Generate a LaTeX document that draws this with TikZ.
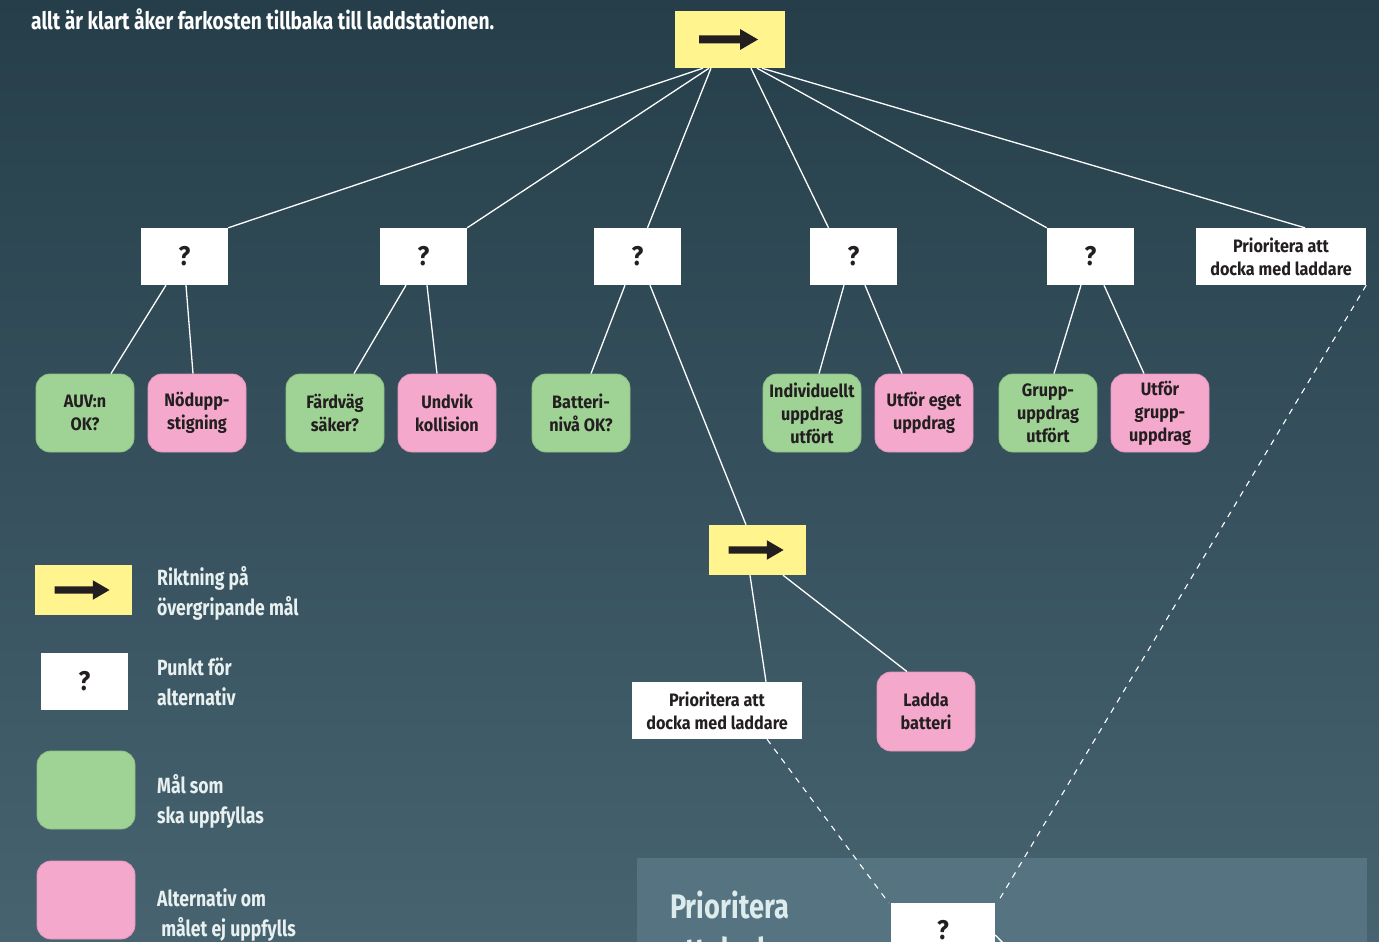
\documentclass[tikz,border=0pt]{standalone}
\usepackage{fontspec}
\setmainfont{Fira Sans}
\newfontfamily\boxfont{Fira Sans}[FakeStretch=0.9]
\newfontfamily\condfont{Fira Sans}[FakeStretch=0.8]
\usetikzlibrary{calc}
\definecolor{bgtop}{HTML}{253E4A}
\definecolor{bgbot}{HTML}{46636F}
\definecolor{ylw}{HTML}{FFF48E}
\definecolor{grn}{HTML}{9FD295}
\definecolor{grnb}{HTML}{8CC083}
\definecolor{pnk}{HTML}{F4A8CC}
\definecolor{pnkb}{HTML}{E495BB}
\definecolor{ink}{HTML}{231F20}
\definecolor{panel}{HTML}{557380}
\definecolor{paneltxt}{HTML}{DCEBEC}
\definecolor{wtxt}{HTML}{E8F0F0}
\tikzset{
  ybox/.style={fill=ylw, draw=none, inner sep=0pt},
  qbox/.style={fill=white, draw=none, inner sep=0pt, minimum width=87pt, minimum height=57pt,
    font=\boxfont\bfseries\fontsize{27}{27}\selectfont, text=ink},
  pbox/.style={fill=white, draw=none, inner sep=0pt, minimum width=170pt, minimum height=57pt,
    align=center, font=\boxfont\bfseries\fontsize{18}{23}\selectfont, text=ink},
  leaf/.style={rounded corners=14pt, inner sep=0pt, minimum width=98pt, minimum height=78pt,
    align=center, font=\boxfont\bfseries\fontsize{18}{23}\selectfont, text=ink, line width=0.8pt},
  gleaf/.style={leaf, fill=grn, draw=grnb},
  pleaf/.style={leaf, fill=pnk, draw=pnkb},
  conn/.style={draw=white, line width=1.3pt},
  dconn/.style={draw=white, line width=1.1pt, dash pattern=on 6pt off 6pt},
  wtext/.style={text=wtxt, anchor=west, align=left, inner sep=0pt,
    font=\condfont\bfseries\fontsize{22}{30}\selectfont},
  ptext/.style={anchor=base west, inner sep=0pt, text=paneltxt,
    font=\condfont\bfseries\fontsize{34}{44}\selectfont},
}
\newcommand{\yarrow}[2]{% node name, scale
  \fill[ink, shift={(#1.center)}, scale=#2]
    (-31,-4) -- (10,-4) -- (10,-10.5) -- (28,0) -- (10,10.5) -- (10,4) -- (-31,4) -- cycle;}
\begin{document}
\begin{tikzpicture}[x=1pt, y=-1pt]
\useasboundingbox (0,0) rectangle (1379,942);
\clip (0,0) rectangle (1379,942);
\shade[top color=bgtop, bottom color=bgbot] (0,0) rectangle (1379,942);
% panel
\fill[panel] (637,858) rectangle (1367,960);
\node[ptext] (ptitle) at (670,918) {Prioritera};
\node[ptext] (ptitle2) at (670,962) {att docka};
% title text
\node[anchor=base west, inner sep=0pt, text=white,
  font=\condfont\bfseries\fontsize{24}{28}\selectfont] (title) at (31,30)
  {allt är klart åker farkosten tillbaka till laddstationen.};

% nodes
\node[ybox, minimum width=110pt, minimum height=57pt] (top) at (730,39.5) {};
\yarrow{top}{1}
\node[qbox] (q1) at (184.5,256.5) {?};
\node[qbox] (q2) at (423.5,256.5) {?};
\node[qbox] (q3) at (637.5,256.5) {?};
\node[qbox] (q4) at (853.5,256.5) {?};
\node[qbox] (q5) at (1090.5,256.5) {?};
\node[pbox] (p1) at (1281,256.5) {Prioritera att\\docka med laddare};

\node[gleaf] (auv) at (85,413) {AUV:n\\OK?};
\node[pleaf] (nod) at (197,413) {Nödupp-\\stigning};
\node[gleaf] (fard) at (335,413) {Färdväg\\säker?};
\node[pleaf] (undv) at (447,413) {Undvik\\kollision};
\node[gleaf] (batt) at (581,413) {Batteri-\\nivå OK?};
\node[gleaf] (indiv) at (812,413) {Individuellt\\uppdrag\\utfört};
\node[pleaf] (eget) at (924,413) {Utför eget\\uppdrag};
\node[gleaf] (grupp) at (1048,413) {Grupp-\\uppdrag\\utfört};
\node[pleaf] (utgr) at (1160,413) {Utför\\grupp-\\uppdrag};

\node[ybox, minimum width=97pt, minimum height=50pt] (a2) at (757.5,550) {};
\yarrow{a2}{0.93}
\node[pbox] (p2) at (717,710.5) {Prioritera att\\docka med laddare};
\node[pleaf, minimum height=79pt] (ladda) at (926,711.5) {Ladda\\batteri};
\node[qbox, minimum width=104pt, minimum height=56pt, anchor=north] (bq) at (943,903) {};
\node[text=ink, font=\boxfont\bfseries\fontsize{27}{27}\selectfont, inner sep=0pt] (bqm) at (943,930) {?};

% connectors top
\draw[conn] ([xshift=-27pt]top.south) -- (q1.north east);
\draw[conn] ([xshift=-21pt]top.south) -- (q2.north east);
\draw[conn] ([xshift=-19pt]top.south) -- ([xshift=10pt]q3.north);
\draw[conn] ([xshift=21pt]top.south) -- ([xshift=-25pt]q4.north);
\draw[conn] ([xshift=27pt]top.south) -- (q5.north west);
\draw[conn] ([xshift=32pt]top.south) -- ([xshift=24pt]p1.north);
% q to leaves
\draw[conn] ([xshift=-18.5pt]q1.south) -- ([xshift=26pt]auv.north);
\draw[conn] ([xshift=1.5pt]q1.south) -- ([xshift=-4pt]nod.north);
\draw[conn] ([xshift=-17.5pt]q2.south) -- ([xshift=19pt]fard.north);
\draw[conn] ([xshift=3.5pt]q2.south) -- ([xshift=-10pt]undv.north);
\draw[conn] ([xshift=-12.5pt]q3.south) -- ([xshift=10pt]batt.north);
\draw[conn] ([xshift=12.5pt]q3.south) -- ([xshift=-11.5pt]a2.north);
\draw[conn] ([xshift=-9.5pt]q4.south) -- ([xshift=7pt]indiv.north);
\draw[conn] ([xshift=11.5pt]q4.south) -- ([xshift=-22pt]eget.north);
\draw[conn] ([xshift=-9.5pt]q5.south) -- ([xshift=6pt]grupp.north);
\draw[conn] ([xshift=13.5pt]q5.south) -- ([xshift=-16pt]utgr.north);
% arrow2 children
\draw[conn] ([xshift=-7.5pt]a2.south) -- ([xshift=49pt]p2.north);
\draw[conn] ([xshift=25.5pt]a2.south) -- ([xshift=-19pt]ladda.north);
% dashed
\draw[dconn] ([xshift=50pt]p2.south) -- ([xshift=-2pt]bq.north west);
\draw[dconn] (p1.south east) -- ([xshift=2pt]bq.north east);
\coordinate (bqout) at (1015,955);
\draw[conn] ([yshift=-32pt]bq.north east) -- (bqout);

% legend
\node[ybox, minimum width=97pt, minimum height=50pt] (lg1) at (83.5,590) {};
\yarrow{lg1}{0.93}
\node[wtext] (lt1) at (157,593) {Riktning på\\övergripande mål};
\node[qbox] (lg2) at (84.5,681.5) {?};
\node[wtext] (lt2) at (157,682) {Punkt för\\alternativ};
\node[gleaf, minimum height=78pt] (lg3) at (86,790) {};
\node[wtext] (lt3) at (157,801) {Mål som\\ska uppfyllas};
\node[pleaf, minimum height=78pt] (lg4) at (86,900) {};
\node[wtext] (lt4) at (157,915) {Alternativ om\\\ målet ej uppfylls};
\end{tikzpicture}
\end{document}
